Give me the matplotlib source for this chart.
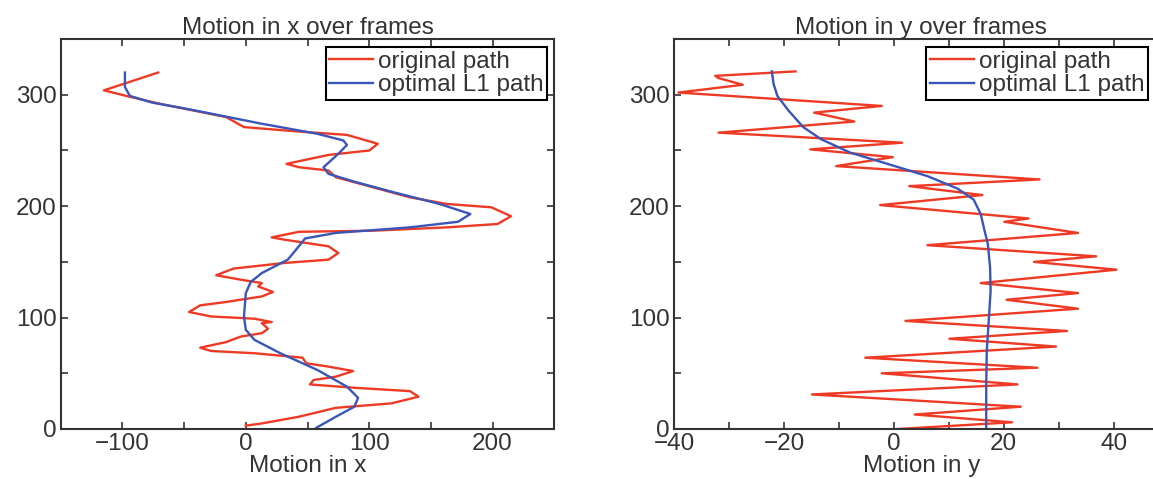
import numpy as np
import matplotlib.pyplot as plt
from matplotlib.ticker import MultipleLocator

plt.rcParams['font.family'] = ['Liberation Sans', 'DejaVu Sans']

# left panel: motion in x (value, frame)
x_orig_val = [-71, -115, -97, -70, -16, -1.5, 43, 82, 107, 100, 67, 33, 43, 67, 73, 103, 133, 163,
              199, 215, 204, 163, 103, 43, 21, 31, 67, 75, 67, 31, -10, -24, -4, 13, 10, 22, 13,
              -16, -37, -46, -28, 7, 21, 13, 18, 13, -4, -16, -37, -28, 7, 46, 49, 67, 87, 73, 55,
              52, 88, 133, 140, 118, 73, 43, 13, 0]
x_orig_frame = [320, 304, 299, 292, 280, 271, 267, 264, 256, 250, 246, 238, 235, 232, 226, 217, 208, 202,
                199, 191, 184, 181, 178, 177, 172, 170, 164, 158, 152, 149, 144, 138, 134, 131, 128, 123, 119,
                114, 111, 105, 101, 99, 96, 95, 90, 86, 83, 78, 73, 70, 68, 64, 59, 56, 52, 47, 44,
                40, 37, 34, 29, 23, 19, 11, 5, 3]
x_opt_val = [-98, -98, -94, -76, -46, 13, 58, 79, 82, 75, 63, 67, 88, 118, 157, 182, 172, 133, 73, 48,
             43, 34, 13, 4, 0, -1.5, 0, 7, 28, 58, 82, 91, 88, 73, 57]
x_opt_frame = [320, 307, 299, 293, 287, 274, 265, 259, 255, 247, 235, 229, 222, 213, 202, 193, 186, 181, 176, 171,
               164, 152, 140, 132, 122, 101, 89, 80, 68, 53, 38, 28, 20, 11, 1]

# right panel: motion in y (value, frame)
y_orig_val = [-17.9, -32.5, -31.9, -27.5, -39.2, -2.2, -14.5, -7.2, -31.9, 1.5, -15.2, -0.2, -10.5, 26.5,
              2.8, 16.1, -2.5, 24.5, 20.1, 33.5, 6.1, 36.8, 25.5, 40.5, 15.8, 33.5, 20.5, 33.5, 2.1,
              31.5, 10.1, 29.5, -5.2, 26.1, -2.2, 22.5, -14.9, 23.1, 3.8, 21.5, 0.8]
y_orig_frame = [321, 317, 315, 309, 302, 290, 284, 276, 266, 257, 251, 244, 236, 224,
                218, 210, 201, 189, 186, 176, 165, 155, 150, 143, 131, 122, 116, 108, 97,
                88, 81, 74, 64, 55, 50, 40, 31, 20, 13, 6, 0]
y_opt_val = [-22.2, -21.9, -21.2, -19.2, -16.5, -13.2, -7.9, -0.5, 6.1, 11.5, 14.5, 15.8, 16.5, 17.1,
             17.5, 17.6, 17.3, 16.9, 16.8, 16.8]
y_opt_frame = [321, 310, 299, 286, 271, 260, 248, 237, 227, 216, 206, 193, 178, 166,
               145, 124, 100, 70, 40, 1]

red = '#ee3a24'
blue = '#3a56b8'
dark = '#333333'
fs = 17.5

fig = plt.figure(figsize=(11.53, 4.79), dpi=100)
ax1 = fig.add_axes([0.0527, 0.1044, 0.428, 0.814])
ax2 = fig.add_axes([0.5846, 0.1044, 0.429, 0.814])


def style(ax, xlim, xmaj, xmin):
    ax.set_xlim(*xlim)
    ax.set_ylim(0, 350)
    ax.xaxis.set_major_locator(MultipleLocator(xmaj))
    ax.xaxis.set_minor_locator(MultipleLocator(xmin))
    ax.yaxis.set_major_locator(MultipleLocator(100))
    ax.yaxis.set_minor_locator(MultipleLocator(50))
    ax.tick_params(which='both', direction='in', top=True, right=True, length=5,
                   width=1.2, color=dark, labelsize=fs, labelcolor=dark, pad=3)
    for s in ax.spines.values():
        s.set_color(dark)
        s.set_linewidth(1.5)


def legend(ax, anchor):
    leg = ax.legend(loc='upper right', bbox_to_anchor=anchor, fontsize=fs, frameon=True,
                    fancybox=False, edgecolor='black', framealpha=1, borderaxespad=0,
                    handlelength=1.8, handletextpad=0.2, borderpad=0.15, labelspacing=0.05,
                    labelcolor=dark)
    leg.get_frame().set_linewidth(1.5)


ax1.plot(x_orig_val, x_orig_frame, color=red, lw=1.7, label='original path')
ax1.plot(x_opt_val, x_opt_frame, color=blue, lw=1.7, label='optimal L1 path')
style(ax1, (-150, 250), 100, 50)
ax1.set_title('Motion in x over frames', fontsize=fs, color=dark, pad=4)
ax1.set_xlabel('Motion in x', fontsize=fs, color=dark, labelpad=0)
legend(ax1, (0.986, 0.979))

ax2.plot(y_orig_val, y_orig_frame, color=red, lw=1.7, label='original path')
ax2.plot(y_opt_val, y_opt_frame, color=blue, lw=1.7, label='optimal L1 path')
style(ax2, (-40, 50), 20, 10)
ax2.set_title('Motion in y over frames', fontsize=fs, color=dark, pad=4)
ax2.set_xlabel('Motion in y', fontsize=fs, color=dark, labelpad=0)
legend(ax2, (0.958, 0.979))

fig.savefig('out.png', dpi=100)
